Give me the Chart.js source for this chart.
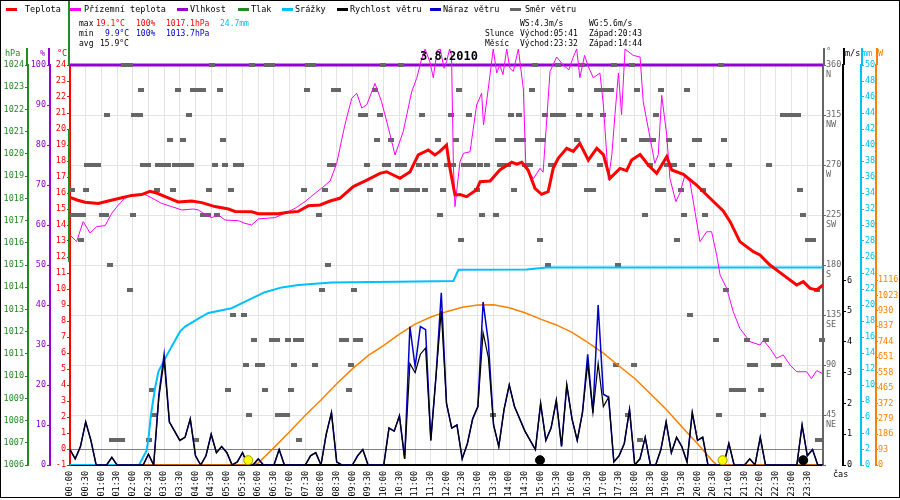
<!DOCTYPE html>
<html>
<head>
<meta charset="utf-8">
<script src="https://cdn.jsdelivr.net/npm/chart.js@4.4.0/dist/chart.umd.min.js"></script>
<style>
html, body { margin: 0; padding: 0; background: #fff; }
canvas { display: block; }
</style>
</head>
<body>
<canvas id="meteo" width="900" height="500"></canvas>
<script>
// legend
const legendNames = ['Teplota', 'Přízemní teplota', 'Vlhkost', 'Tlak', 'Srážky', 'Rychlost větru', 'Náraz větru', 'Směr větru'];
const legendColors = ['#ff0000', '#ff00ff', '#9400d3', '#228b22', '#00bfff', '#000000', '#0000cd', '#666666'];

// temperature (°C), times in hours
const tempTimes = [0, 0.25, 0.48, 0.9, 1.22, 1.65, 1.97, 2.28, 2.55, 2.76, 3.13, 3.45, 3.88, 4.2, 4.62, 5.05, 5.26, 5.79, 6, 6.64,
  6.96, 7.28, 7.6, 7.97, 8.29, 8.6, 9.03, 9.46, 9.88, 10.09, 10.52, 10.84, 11.1, 11.42, 11.63, 11.79, 12, 12.11, 12.27, 12.43,
  12.64, 12.96, 13.07, 13.39, 13.7, 14.08, 14.24, 14.4, 14.6, 14.82, 15.03, 15.24, 15.4, 15.56, 15.83, 16.04, 16.25, 16.52, 16.79, 17,
  17.21, 17.53, 17.74, 17.9, 18.17, 18.43, 18.7, 19.02, 19.18, 19.55, 19.97, 20.4, 20.82, 21.04, 21.35, 21.78, 21.99, 22.31, 22.73, 23.16,
  23.37, 23.59, 23.8, 24];
const tempValues = [15.73, 15.55, 15.42, 15.35, 15.5, 15.7, 15.85, 15.9, 16.1, 16.0, 15.7, 15.44, 15.5, 15.4, 15.15, 15.0, 14.85, 14.83, 14.7, 14.7,
  14.8, 14.85, 15.2, 15.25, 15.5, 15.67, 16.4, 16.8, 17.23, 17.33, 16.92, 17.33, 18.38, 18.69, 18.38, 18.6, 19.0, 17.54, 15.88, 15.9,
  15.77, 16.2, 16.71, 16.75, 17.44, 17.92, 17.8, 17.92, 17.44, 16.29, 15.92, 16.08, 17.54, 18.17, 18.79, 18.6, 19.1, 18.06, 18.79, 18.4,
  16.92, 17.54, 17.4, 18.06, 18.4, 17.75, 17.23, 18.27, 17.44, 17.17, 16.5, 15.67, 14.88, 14.21, 12.96, 12.33, 12.13, 11.5, 10.88, 10.25,
  10.46, 10.04, 9.94, 10.25];

// ground temperature (°C)
const groundTimes = [0, 0.21, 0.42, 0.64, 0.85, 1.12, 1.33, 1.54, 1.75, 1.97, 2.39, 2.6, 2.92, 3.24, 3.56, 3.93, 4.09, 4.3, 4.52, 4.73,
  4.94, 5.37, 5.58, 5.79, 6, 6.53, 6.85, 7.17, 7.49, 7.81, 8.02, 8.29, 8.5, 8.76, 8.98, 9.14, 9.3, 9.46, 9.72, 9.93,
  10.15, 10.36, 10.62, 10.89, 11.05, 11.21, 11.32, 11.47, 11.58, 11.7, 11.8, 11.92, 12, 12.1, 12.16, 12.22, 12.27, 12.43, 12.54, 12.75,
  12.96, 13.12, 13.18, 13.33, 13.49, 13.6, 13.7, 13.8, 13.92, 14.02, 14.13, 14.29, 14.45, 14.53, 14.77, 14.98, 15.08, 15.3, 15.51, 15.72,
  15.9, 16.04, 16.15, 16.25, 16.4, 16.52, 16.68, 16.89, 17, 17.16, 17.27, 17.37, 17.48, 17.58, 17.69, 17.95, 18.17, 18.27, 18.49, 18.64,
  18.75, 18.86, 19.02, 19.12, 19.31, 19.44, 19.6, 19.76, 20.08, 20.29, 20.45, 20.61, 20.72, 20.93, 21.14, 21.35, 21.67, 21.99, 22.1, 22.31,
  22.52, 22.73, 22.95, 23.16, 23.48, 23.63, 23.8, 24];
const groundValues = [13.38, 12.96, 14.21, 13.5, 13.9, 13.96, 14.73, 15.25, 15.67, 15.9, 15.9, 15.7, 15.35, 15.15, 14.94, 15.0, 14.94, 14.67, 14.46, 14.63,
  14.31, 14.27, 14.1, 14.0, 14.38, 14.46, 14.73, 15.04, 15.46, 15.98, 16.3, 16.75, 17.85, 20.25, 21.92, 22.23, 21.31, 21.52, 22.85, 21.71,
  20.04, 18.38, 19.83, 22.33, 23.17, 24.4, 25.0, 24.2, 23.2, 24.9, 25.0, 23.8, 24.2, 25.0, 24.6, 17.75, 15.15, 17.96, 18.48, 18.58,
  21.5, 22.23, 20.25, 22.5, 25.0, 23.5, 24.0, 23.4, 25.0, 23.8, 23.6, 25.0, 22.5, 17.54, 16.9, 17.54, 17.3, 23.6, 24.5, 24.0,
  23.7, 24.5, 25.0, 23.2, 24.6, 23.9, 23.2, 23.5, 21.5, 16.81, 18.4, 20.9, 23.5, 20.9, 25.0, 24.6, 24.5, 21.7, 19.42, 17.85,
  18.4, 22.1, 19.6, 16.92, 15.46, 16.0, 17.1, 16.69, 12.96, 13.58, 13.58, 12.13, 10.88, 10.04, 8.58, 7.54, 6.71, 6.5, 6.8, 6.29,
  5.67, 5.88, 5.25, 4.83, 4.83, 4.4, 4.9, 4.7];

// humidity (%)
const humidityTimes = [0, 24];
const humidityValues = [100, 100];

// cumulative rain (mm)
const rainTimes = [0, 2.2, 2.44, 2.5, 2.58, 2.71, 2.82, 3.03, 3.24, 3.51, 3.67, 4.09, 4.41, 5.15, 5.68, 6.21, 6.75, 7.28, 8.34, 10.41,
  12.22, 12.38, 14.56, 15.2, 24];
const rainValues = [0, 0, 1.8, 3.3, 6.25, 9.6, 11.7, 13.3, 14.8, 16.7, 17.3, 18.3, 19.0, 19.6, 20.6, 21.6, 22.2, 22.5, 22.8, 22.9,
  23.0, 24.4, 24.45, 24.7, 24.7];

// wind speed and gusts (m/s), one value every 10 minutes from 00:00 to 24:00
const windValues = [
  0.5, 0.2, 0.6, 1.4, 0.8, 0,
  0, 0, 0.25, 0, 0, 0,
  0, 0, 0, 0.35, 0, 2.2,
  3.4, 1.4, 1.1, 0.8, 0.9, 1.5,
  0.3, 0, 0.3, 1.0, 0.4, 0.6,
  0.4, 0, 0.1, 0.4, 0, 0,
  0.2, 0, 0, 0, 0.5, 0,
  0, 0, 0, 0, 0.3, 0.4,
  0, 1.0, 1.7, 0.1, 0, 0,
  0, 0.3, 0.5, 0, 0, 0,
  0, 1.2, 1.1, 1.6, 0.2, 3.3,
  3.0, 3.6, 3.8, 0.8, 2.9, 5.0,
  2.0, 1.2, 1.3, 0.2, 0.7, 1.5,
  1.9, 4.3, 3.5, 1.3, 0.6, 1.8,
  2.6, 1.9, 1.5, 1.1, 0.8, 0.5,
  2.0, 0.8, 1.2, 2.1, 0.6, 2.6,
  1.5, 0.8, 1.7, 3.3, 1.7, 3.3,
  1.9, 2.2, 0.1, 0.3, 0.7, 1.8,
  0, 0.2, 0.9, 0, 0, 0.5,
  1.4, 0.4, 0.9, 0.6, 0.1, 1.7,
  0.8, 0.9, 0, 0, 0, 0,
  0.7, 0, 0, 0, 0.2, 0,
  0.9, 0, 0, 0, 0, 0,
  0, 0, 1.3, 0.3, 0.5, 0,
  0];
const gustValues = [
  0.5, 0.2, 0.6, 1.4, 0.8, 0,
  0, 0, 0.25, 0, 0, 0,
  0, 0, 0, 0.35, 0, 2.3,
  3.6, 1.4, 1.1, 0.8, 0.9, 1.5,
  0.3, 0, 0.3, 1.0, 0.4, 0.6,
  0.4, 0, 0.1, 0.4, 0, 0,
  0.2, 0, 0, 0, 0.5, 0,
  0, 0, 0, 0, 0.3, 0.4,
  0, 1.0, 1.7, 0.1, 0, 0,
  0, 0.3, 0.5, 0, 0, 0,
  0, 1.2, 1.1, 1.6, 0.2, 4.5,
  3.2, 4.5, 4.4, 0.8, 2.9, 5.6,
  2.0, 1.2, 1.3, 0.2, 0.7, 1.5,
  1.9, 5.3, 4.0, 1.3, 0.6, 1.8,
  2.6, 1.9, 1.5, 1.1, 0.8, 0.5,
  2.0, 0.8, 1.2, 2.1, 0.6, 2.6,
  1.5, 0.8, 1.7, 3.6, 1.7, 5.2,
  2.3, 2.2, 0.1, 0.3, 0.7, 1.8,
  0, 0.2, 0.9, 0, 0, 0.5,
  1.4, 0.4, 0.9, 0.6, 0.1, 1.7,
  0.8, 0.9, 0, 0, 0, 0,
  0.7, 0, 0, 0, 0.2, 0,
  0.9, 0, 0, 0, 0, 0,
  0, 0, 1.3, 0.3, 0.5, 0,
  0];

// solar radiation (W)
const solarTimes = [0, 5.68, 6, 6.5, 7, 7.5, 8, 8.5, 9, 9.5, 10, 10.5, 11, 11.5, 12, 12.5, 13, 13.5, 14, 14.5,
  15, 15.5, 16, 16.5, 17, 17.5, 18, 18.5, 19, 19.5, 20, 20.5, 20.62, 24];
const solarValues = [0, 0, 12, 105, 200, 300, 392, 490, 580, 660, 722, 790, 850, 893, 925, 952, 965, 966, 948, 918,
  880, 845, 800, 740, 675, 597, 522, 430, 336, 230, 128, 20, 0, 0];

// wind direction samples (degrees -> times in hours)
const dirLevels = [360, 337.5, 315, 292.5, 270, 247.5, 225, 202.5, 180, 157.5, 135, 112.5, 90, 67.5, 45, 22.5];
const dirTimes = [
  [1.73, 1.91, 4.51, 5.79, 6.27, 6.43, 7.6, 7.76, 9.97, 10.55, 14.82, 15.56, 16.33, 17.34, 17.9, 20.75],
  [2.26, 3.43, 3.93, 4.07, 4.25, 4.77, 7.54, 8.41, 8.55, 9.72, 12.41, 14.71, 15.97, 16.79, 16.95, 17.11, 17.23, 18.06, 18.83, 19.65],
  [1.17, 2.05, 2.23, 3.79, 9.26, 9.4, 9.88, 11.21, 12.14, 12.71, 14.06, 14.31, 15.14, 15.4, 15.56, 15.72, 16.22, 16.57, 16.98, 18.68, 22.73, 22.9, 23.05, 23.19],
  [3.19, 3.59, 4.88, 9.77, 10.23, 11.74, 12.3, 13.63, 13.79, 14.26, 14.43, 14.93, 15.07, 16.15, 17.66, 18.22, 18.41, 18.57, 19.08, 19.92, 20.06, 20.85],
  [0.55, 0.71, 0.9, 2.32, 2.48, 2.82, 2.98, 3.13, 3.35, 3.54, 3.69, 3.86, 4.62, 4.94, 5.28, 5.45, 8.28, 8.39, 9.46, 10.04, 10.15, 10.45, 10.63,
    11.12, 11.37, 11.63, 12.0, 12.22, 12.57, 12.7, 12.85, 13.07, 13.28, 13.71, 13.87, 13.97, 14.5, 14.66, 15.33, 15.78, 15.94, 16.05, 16.89,
    18.49, 19.02, 19.18, 19.26, 19.81, 20.45, 21.0, 22.29],
  [0.07, 0.51, 2.76, 3.27, 4.44, 5.13, 7.45, 8.13, 9.56, 10.29, 10.39, 10.73, 10.89, 11.05, 11.32, 11.88, 12.96, 14.15, 16.47, 16.66, 18.73, 18.89, 19.48, 20.16, 23.27],
  [0.03, 0.21, 0.42, 1.01, 1.14, 2.02, 4.25, 4.39, 4.68, 7.93, 11.79, 13.14, 13.58, 18.33, 19.57, 20.24, 23.37],
  [0.34, 12.46, 14.98, 19.35, 23.53, 23.67],
  [1.28, 8.22, 15.23, 17.48],
  [1.92, 8.02, 9.05, 20.9, 23.8],
  [5.18, 5.55, 19.76],
  [5.86, 6.45, 6.59, 6.94, 7.2, 7.35, 8.66, 8.8, 9.11, 9.24, 20.58, 21.57, 22.19, 23.98],
  [5.61, 5.98, 6.13, 7.13, 7.81, 8.96, 17.4, 17.99, 21.68, 21.84, 22.44, 22.61],
  [2.62, 5.02, 6.21, 7.04, 8.89, 21.09, 21.25, 21.46, 22.02],
  [2.67, 5.71, 6.64, 6.78, 6.91, 13.47, 17.8, 20.69, 22.08],
  [1.35, 1.51, 1.67, 2.52, 4.02, 7.3, 18.17, 23.83, 23.94]
];
const compassNames = { 360: 'N', 315: 'NW', 270: 'W', 225: 'SW', 180: 'S', 135: 'SE', 90: 'E', 45: 'NE' };

// sun / moon rise and set markers (hours)
const sunTimes = [5.68, 20.8];
const moonTimes = [14.98, 23.37];

// tick lists for the right axes
const speedTicks = [0, 1, 2, 3, 4, 5, 6];
const solarTicks = [0, 93, 186, 279, 372, 465, 558, 651, 744, 837, 930, 1023, 1116];

const FONT = "'DejaVu Sans Mono', monospace";
Chart.defaults.font.family = FONT;
Chart.defaults.font.size = 8.5;
Chart.defaults.color = '#000';

function pairs(times, values) {
  return times.map((t, i) => ({ x: t, y: values[i] }));
}

function timeLabel(v) {
  if (v >= 24) return '';
  const h = Math.floor(v);
  return String(h).padStart(2, '0') + ':' + (v - h > 0 ? '30' : '00');
}

// small grey bar used for each wind direction sample
const dirMark = document.createElement('canvas');
dirMark.width = 6;
dirMark.height = 4;
const mctx = dirMark.getContext('2d');
mctx.fillStyle = '#666666';
mctx.fillRect(0, 0, 6, 4);

const dirPoints = [];
dirLevels.forEach((deg, k) => {
  dirTimes[k].forEach(t => dirPoints.push({ x: t, y: deg }));
});

const headerPlugin = {
  id: 'header',
  beforeDraw(chart) {
    const c = chart.ctx;
    c.save();
    c.fillStyle = '#fff';
    c.fillRect(0, 0, chart.width, chart.height);
    c.restore();
  },
  afterDraw(chart) {
    const c = chart.ctx;
    const s = chart.scales;
    c.save();
    c.textBaseline = 'middle';
    c.font = '8.5px ' + FONT;

    // legend row
    const legendX = [6, 70, 177, 238, 282, 337, 430, 510];
    const textX = [25, 84, 190, 251, 295, 350, 443, 525];
    legendNames.forEach((name, i) => {
      c.fillStyle = legendColors[i];
      c.fillRect(legendX[i], 8, 11, 3);
      c.fillStyle = '#000';
      c.fillText(name, textX[i], 10);
    });

    // stats block
    const put = (str, x, y, col) => { c.fillStyle = col; c.textAlign = 'left'; c.fillText(str, x, y); };
    c.font = '8px ' + FONT;
    put('max', 79, 24, '#000');
    put('19.1°C', 96, 24, '#ff0000');
    put('100%', 136, 24, '#ff0000');
    put('1017.1hPa', 166, 24, '#ff0000');
    put('24.7mm', 220, 24, '#00bfff');
    put('min', 79, 34, '#000');
    put('9.9°C', 105, 34, '#0000cd');
    put('100%', 136, 34, '#0000cd');
    put('1013.7hPa', 166, 34, '#0000cd');
    put('avg', 79, 44, '#000');
    put('15.9°C', 100, 44, '#000');

    put('WS:4.3m/s', 520, 24, '#000');
    put('WG:5.6m/s', 589, 24, '#000');
    put('Slunce', 485, 34, '#000');
    put('Východ:05:41', 520, 34, '#000');
    put('Západ:20:43', 589, 34, '#000');
    put('Měsíc', 485, 44, '#000');
    put('Východ:23:32', 520, 44, '#000');
    put('Západ:14:44', 589, 44, '#000');

    // axis titles
    c.font = '8.5px ' + FONT;
    put('hPa', 5, 54, '#228b22');
    put('%', 40, 54, '#9400d3');
    put('°C', 57, 54, '#ff0000');
    put('°', 826, 52, '#666666');
    put('m/s', 845, 54, '#000');
    put('mm', 862, 54, '#00bfff');
    put('W', 878, 54, '#ff8000');
    put('čas', 833, 475, '#000');

    // date title
    c.font = 'bold 12px ' + FONT;
    c.textAlign = 'center';
    c.fillStyle = '#000';
    c.fillText('3.8.2010', 449, 57);

    // axis lines reaching up into the header
    const top = chart.chartArea.top;
    const ext = (x, y0, y1, col) => {
      c.strokeStyle = col; c.lineWidth = 2;
      c.beginPath(); c.moveTo(x, y0); c.lineTo(x, y1); c.stroke();
    };
    ext(s.hpa.right - 1, 48, top, '#228b22');
    ext(s.hum.right - 1, 48, top, '#9400d3');
    ext(s.t.right - 1, 0, top, '#228b22');
    ext(s.t.right - 1, s.t.getPixelForValue(20), s.t.getPixelForValue(11.7), '#228b22');
    ext(s.dir.left + 1, 48, top, '#666666');
    ext(s.ms.left + 1, 48, top, '#000');
    ext(s.mm.left + 1, 48, top, '#00bfff');
    ext(s.w.left + 1, 48, top, '#ff8000');

    // outer frame
    c.strokeStyle = '#000';
    c.lineWidth = 1;
    c.strokeRect(0.5, 0.5, 899, 497);
    c.restore();
  }
};

function sideAxis(opts) {
  const col = opts.color;
  return {
    type: 'linear',
    position: opts.position,
    weight: opts.weight,
    min: opts.min,
    max: opts.max,
    border: { color: col, width: 2 },
    grid: { drawOnChartArea: false, drawTicks: true, tickLength: opts.tickLength || 3, tickColor: col, color: col },
    ticks: Object.assign({ color: col, padding: opts.padding === undefined ? 1 : opts.padding, autoSkip: false,
      callback: v => String(v) }, opts.ticks || {}),
    afterFit: sc => { sc.width = opts.width; },
    afterBuildTicks: opts.tickList ? sc => { sc.ticks = opts.tickList.map(v => ({ value: v })); } : undefined
  };
}

new Chart(document.getElementById('meteo'), {
  type: 'line',
  data: {
    datasets: [
      { label: 'sun', data: sunTimes.map(t => ({ x: t, y: -0.7 })), yAxisID: 't', showLine: false,
        pointRadius: 4.5, pointBackgroundColor: '#ffff00', pointBorderColor: '#999900', pointBorderWidth: 1, clip: false },
      { label: 'moon', data: moonTimes.map(t => ({ x: t, y: -0.7 })), yAxisID: 't', showLine: false,
        pointRadius: 4.5, pointBackgroundColor: '#000', pointBorderColor: '#000', pointBorderWidth: 1, clip: false },
      { label: legendNames[5], data: windValues.map((v, i) => ({ x: i / 6, y: v })), yAxisID: 'ms',
        borderColor: '#000', borderWidth: 1.2, pointRadius: 0 },
      { label: legendNames[6], data: gustValues.map((v, i) => ({ x: i / 6, y: v })), yAxisID: 'ms',
        borderColor: '#0000cd', borderWidth: 1.5, pointRadius: 0 },
      { label: legendNames[0], data: pairs(tempTimes, tempValues), yAxisID: 't',
        borderColor: '#ff0000', borderWidth: 3, pointRadius: 0 },
      { label: legendNames[1], data: pairs(groundTimes, groundValues), yAxisID: 't',
        borderColor: '#ff00ff', borderWidth: 1, pointRadius: 0, clip: false },
      { label: legendNames[4], data: pairs(rainTimes, rainValues), yAxisID: 'mm',
        borderColor: '#00bfff', borderWidth: 2, pointRadius: 0 },
      { label: 'Slunce', data: pairs(solarTimes, solarValues), yAxisID: 'w',
        borderColor: '#ff8000', borderWidth: 1.5, pointRadius: 0 },
      { label: legendNames[7], data: dirPoints, yAxisID: 'dir', showLine: false,
        pointStyle: dirMark, pointRadius: 3, clip: false },
      { label: legendNames[2], data: pairs(humidityTimes, humidityValues), yAxisID: 'hum',
        borderColor: '#9400d3', borderWidth: 3, pointRadius: 0, clip: false }
    ]
  },
  options: {
    responsive: false,
    animation: false,
    devicePixelRatio: 1,
    layout: { padding: { top: 65, left: 0, right: 0, bottom: 0 } },
    plugins: { legend: { display: false }, tooltip: { enabled: false } },
    elements: { line: { tension: 0 } },
    scales: {
      x: {
        type: 'linear', min: 0, max: 24,
        border: { color: '#000', width: 2 },
        grid: { color: '#e4e4e4', drawTicks: false },
        ticks: { stepSize: 0.5, autoSkip: false, minRotation: 90, maxRotation: 90, padding: 6,
          callback: v => timeLabel(v) },
        afterFit: sc => { sc.height = 35; }
      },
      hpa: sideAxis({ position: 'left', weight: 3, min: 1006, max: 1024, color: '#228b22', width: 28,
        ticks: { stepSize: 1 } }),
      hum: sideAxis({ position: 'left', weight: 2, min: 0, max: 100, color: '#9400d3', width: 22,
        ticks: { stepSize: 10 } }),
      t: {
        type: 'linear', position: 'left', weight: 1, min: -1, max: 24,
        border: { color: '#ff0000', width: 2 },
        grid: { drawOnChartArea: true, tickLength: 3, tickColor: '#ff0000',
          color: c => (c.tick && c.tick.value === 0) ? '#808080' : 'rgba(0,0,0,0)' },
        ticks: { stepSize: 1, color: '#ff0000', padding: 1, autoSkip: false, callback: v => String(v) },
        afterFit: sc => { sc.width = 20; }
      },
      dir: {
        type: 'linear', position: 'right', weight: 1, min: 0, max: 360,
        border: { color: '#666666', width: 2 },
        grid: { drawOnChartArea: true, color: '#e4e4e4', tickLength: 3, tickColor: '#666666' },
        ticks: { stepSize: 45, color: '#666666', padding: 0, labelOffset: 5, autoSkip: false,
          callback: v => (v === 0 ? '' : [String(v), compassNames[v]]) },
        afterFit: sc => { sc.width = 20; }
      },
      ms: sideAxis({ position: 'right', weight: 2, min: 0, max: 13, color: '#000', width: 18,
        tickList: speedTicks }),
      mm: sideAxis({ position: 'right', weight: 3, min: 0, max: 50, color: '#00bfff', width: 15,
        ticks: { stepSize: 2 } }),
      w: sideAxis({ position: 'right', weight: 4, min: 0, max: 2413, color: '#ff8000', width: 24,
        tickList: solarTicks, tickLength: 2, padding: 0 })
    }
  },
  plugins: [headerPlugin]
});
</script>
</body>
</html>
